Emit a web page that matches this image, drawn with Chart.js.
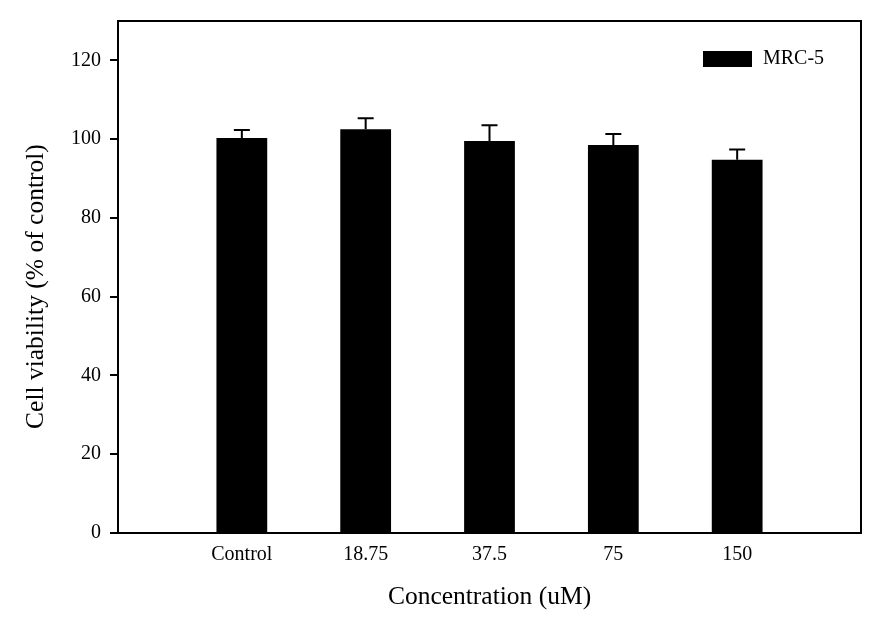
<!DOCTYPE html>
<html>
<head>
<meta charset="utf-8">
<script src="https://cdn.jsdelivr.net/npm/chart.js@4.4.1/dist/chart.umd.min.js"></script>
<style>
  html, body { margin: 0; padding: 0; background: #ffffff; }
  #wrap { width: 888px; height: 634px; }
</style>
</head>
<body>
<div id="wrap"><canvas id="c" width="888" height="634"></canvas></div>
<script>
// ---- data ----
const categories = ['Control', '18.75', '37.5', '75', '150'];
const viability = [100.3, 102.5, 99.5, 98.5, 94.8];
const errorUp = [2.0, 2.8, 4.0, 2.8, 2.6];
const yTicks = [0, 20, 40, 60, 80, 100, 120];
const seriesName = 'MRC-5';
const xTitle = 'Concentration (uM)';
const yTitle = 'Cell viability (% of control)';

// padded category list so bars sit at 1..5 of a 0..6 axis
const labels = [''].concat(categories, ['']);
const values = [null].concat(viability, [null]);
const errors = [null].concat(errorUp, [null]);

const FONT = "'Liberation Serif', 'Times New Roman', serif";

const errorBarPlugin = {
  id: 'errorBars',
  afterDatasetsDraw(chart) {
    const ctx = chart.ctx;
    const meta = chart.getDatasetMeta(0);
    const y = chart.scales.y;
    ctx.save();
    ctx.strokeStyle = '#000';
    ctx.lineWidth = 2;
    meta.data.forEach((bar, i) => {
      if (values[i] == null) return;
      const top = y.getPixelForValue(values[i]);
      const end = y.getPixelForValue(values[i] + errors[i]);
      ctx.beginPath();
      ctx.moveTo(bar.x, top);
      ctx.lineTo(bar.x, end);
      ctx.moveTo(bar.x - 8, end);
      ctx.lineTo(bar.x + 8, end);
      ctx.stroke();
    });
    ctx.restore();
  }
};

const framePlugin = {
  id: 'frame',
  afterDraw(chart) {
    const a = chart.chartArea;
    const ctx = chart.ctx;
    ctx.save();
    ctx.strokeStyle = '#000';
    ctx.lineWidth = 2;
    ctx.beginPath();
    ctx.moveTo(a.left - 1, a.top);
    ctx.lineTo(a.right, a.top);
    ctx.lineTo(a.right, a.bottom + 1);
    ctx.stroke();
    // legend inside the plot area (top-right)
    const bx = a.right - 158, by = a.top + 30;
    ctx.fillStyle = chart.data.datasets[0].backgroundColor;
    ctx.fillRect(bx, by, 49, 16);
    ctx.fillStyle = '#000';
    ctx.font = "20px " + FONT;
    ctx.textBaseline = 'middle';
    ctx.textAlign = 'left';
    ctx.fillText(chart.data.datasets[0].label, bx + 60, by + 8);
    ctx.restore();
  }
};

new Chart(document.getElementById('c'), {
  type: 'bar',
  data: {
    labels: labels,
    datasets: [{
      label: seriesName,
      data: values,
      backgroundColor: '#000000',
      borderWidth: 0,
      categoryPercentage: 1.0,
      barPercentage: 0.41
    }]
  },
  options: {
    responsive: false,
    animation: false,
    devicePixelRatio: 1,
    layout: { padding: { left: 0, right: 27, top: 21, bottom: 0 } },
    plugins: {
      legend: { display: false },
      tooltip: { enabled: false }
    },
    scales: {
      x: {
        offset: false,
        grid: { display: false, drawTicks: false },
        border: { display: true, color: '#000', width: 2 },
        ticks: {
          color: '#000',
          font: { family: FONT, size: 20 },
          padding: 10,
          maxRotation: 0,
          autoSkip: false
        },
        title: {
          display: true,
          text: xTitle,
          color: '#000',
          font: { family: FONT, size: 25.5 },
          padding: { top: 0, bottom: 21 }
        },
        afterFit(scale) { scale.height = 101; }
      },
      y: {
        min: 0,
        max: 130,
        afterBuildTicks(scale) {
          scale.ticks = yTicks.map(v => ({ value: v }));
        },
        grid: {
          display: true,
          drawOnChartArea: false,
          drawTicks: true,
          tickLength: 8,
          color: '#000',
          lineWidth: 2
        },
        border: { display: true, color: '#000', width: 2 },
        ticks: {
          color: '#000',
          font: { family: FONT, size: 20 },
          padding: 9
        },
        title: {
          display: true,
          text: yTitle + '   ',
          color: '#000',
          font: { family: FONT, size: 25.5 },
          padding: { top: 21, bottom: 0 }
        },
        afterFit(scale) { scale.width = 118; }
      }
    }
  },
  plugins: [errorBarPlugin, framePlugin]
});
</script>
</body>
</html>
